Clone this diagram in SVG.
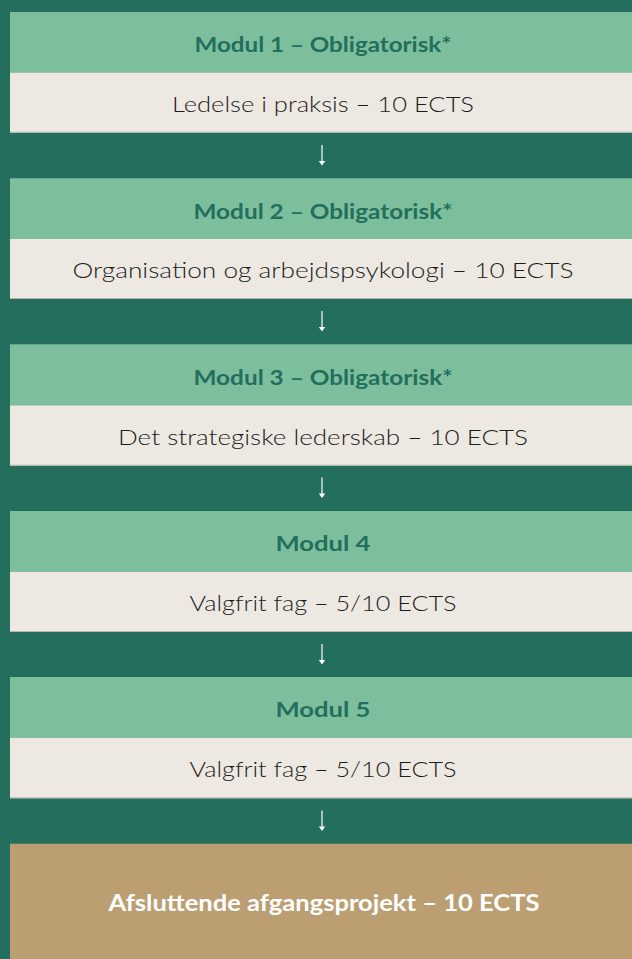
<svg xmlns="http://www.w3.org/2000/svg" width="632" height="959" viewBox="0 0 632 959">
<style>
.bg{fill:#236e5c}
.hd{fill:#7dbf9c}
.bd{fill:#ede9e2}
.fin{fill:#bb9f73}
.sep{stroke:#b4b8ae;stroke-width:1}
.ht{font-family:"Lato","Liberation Sans",sans-serif;font-weight:700;font-size:21px;fill:#236e5c;text-anchor:middle}
.bt{font-family:"Lato","Liberation Sans",sans-serif;font-weight:300;font-size:22px;fill:#1c1c1c;text-anchor:middle}
.ft{font-family:"Lato","Liberation Sans",sans-serif;font-weight:700;font-size:22px;fill:#ffffff;text-anchor:middle}
.arr{stroke:#ffffff;stroke-width:1.2;fill:none}
.ah{fill:#ffffff}
</style>
<rect class="bg" x="0" y="0" width="632" height="959"/>

<g id="modul1">
<rect class="hd" x="10" y="12" width="622" height="60.5"/>
<text class="ht" x="323" y="52.3" textLength="257" lengthAdjust="spacingAndGlyphs">Modul 1 – Obligatorisk*</text>
<rect class="bd" x="10" y="72.5" width="622" height="60.2"/>
<line class="sep" x1="10" y1="132.2" x2="632" y2="132.2"/>
<text class="bt" x="323" y="111.7" textLength="302" lengthAdjust="spacingAndGlyphs">Ledelse i praksis – 10 ECTS</text>
</g>

<g id="modul2">
<rect class="hd" x="10" y="178.3" width="622" height="60.7"/>
<text class="ht" x="323" y="218.6" textLength="259" lengthAdjust="spacingAndGlyphs">Modul 2 – Obligatorisk*</text>
<rect class="bd" x="10" y="239" width="622" height="60"/>
<line class="sep" x1="10" y1="298.5" x2="632" y2="298.5"/>
<text class="bt" x="323" y="278.2" textLength="501" lengthAdjust="spacingAndGlyphs">Organisation og arbejdspsykologi – 10 ECTS</text>
</g>

<g id="modul3">
<rect class="hd" x="10" y="344.3" width="622" height="61"/>
<text class="ht" x="323" y="384.8" textLength="259" lengthAdjust="spacingAndGlyphs">Modul 3 – Obligatorisk*</text>
<rect class="bd" x="10" y="405.3" width="622" height="60.4"/>
<line class="sep" x1="10" y1="465.2" x2="632" y2="465.2"/>
<text class="bt" x="323" y="444.7" textLength="410" lengthAdjust="spacingAndGlyphs">Det strategiske lederskab – 10 ECTS</text>
</g>

<g id="modul4">
<rect class="hd" x="10" y="511" width="622" height="60.7"/>
<text class="ht" x="323" y="551.3" textLength="95" lengthAdjust="spacingAndGlyphs">Modul 4</text>
<rect class="bd" x="10" y="571.7" width="622" height="60.3"/>
<line class="sep" x1="10" y1="631.5" x2="632" y2="631.5"/>
<text class="bt" x="323" y="611" textLength="267" lengthAdjust="spacingAndGlyphs">Valgfrit fag – 5/10 ECTS</text>
</g>

<g id="modul5">
<rect class="hd" x="10" y="677" width="622" height="60.7"/>
<text class="ht" x="323" y="717.3" textLength="95" lengthAdjust="spacingAndGlyphs">Modul 5</text>
<rect class="bd" x="10" y="737.7" width="622" height="60.6"/>
<line class="sep" x1="10" y1="797.8" x2="632" y2="797.8"/>
<text class="bt" x="323" y="777.2" textLength="267" lengthAdjust="spacingAndGlyphs">Valgfrit fag – 5/10 ECTS</text>
</g>

<g id="projekt">
<rect class="fin" x="10" y="843.7" width="622" height="115.3"/>
<text class="ft" x="324" y="911" textLength="431" lengthAdjust="spacingAndGlyphs">Afsluttende afgangsprojekt – 10 ECTS</text>
</g>

<g id="connectors">
<line class="arr" x1="322" y1="145" x2="322" y2="161.5"/>
<polygon class="ah" points="318.8,161 325.2,161 322,165.5"/>
<line class="arr" x1="322" y1="311" x2="322" y2="327.5"/>
<polygon class="ah" points="318.8,327 325.2,327 322,331.5"/>
<line class="arr" x1="322" y1="477.5" x2="322" y2="494"/>
<polygon class="ah" points="318.8,493.5 325.2,493.5 322,498"/>
<line class="arr" x1="322" y1="644" x2="322" y2="660.5"/>
<polygon class="ah" points="318.8,660 325.2,660 322,664.5"/>
<line class="arr" x1="322" y1="810.5" x2="322" y2="827"/>
<polygon class="ah" points="318.8,826.5 325.2,826.5 322,831"/>
</g>
</svg>
